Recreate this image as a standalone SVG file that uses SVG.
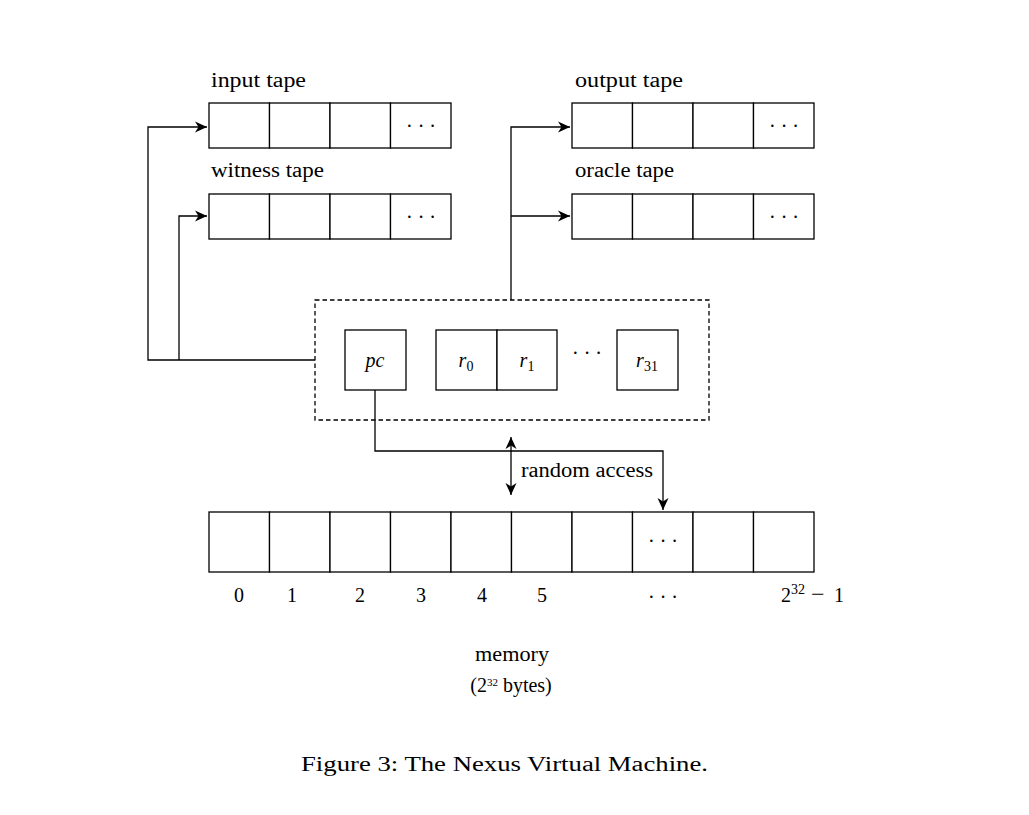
<svg xmlns="http://www.w3.org/2000/svg" width="1029" height="815" viewBox="0 0 1029 815">
<style>
.cell{fill:#fff;stroke:#000;stroke-width:1.3}
.ln{fill:none;stroke:#000;stroke-width:1.3}
.t{font-family:"Liberation Serif","DejaVu Serif",serif;font-size:20px;fill:#000}
.m{font-family:"Liberation Serif","DejaVu Serif",serif;font-size:20px;font-style:italic;fill:#000}
.s{font-size:14px}
</style>
<defs>
<marker id="ah" markerUnits="userSpaceOnUse" markerWidth="16" markerHeight="14" refX="12" refY="7" orient="auto-start-reverse">
<path d="M0,1.5 L12,7 L0,12.5 L3.5,7 Z" fill="#000"/>
</marker>
</defs>
<rect width="1029" height="815" fill="#fff"/>

<g id="input-tape">
<text class="t" x="211" y="87" textLength="95" lengthAdjust="spacingAndGlyphs">input tape</text>
<rect class="cell" x="209" y="103" width="60.5" height="45"/>
<rect class="cell" x="269.5" y="103" width="60.5" height="45"/>
<rect class="cell" x="330" y="103" width="60.5" height="45"/>
<rect class="cell" x="390.5" y="103" width="60.5" height="45"/>
<text class="t" x="421" y="133" text-anchor="middle">· · ·</text>
</g>
<g id="witness-tape">
<text class="t" x="211" y="177" textLength="113" lengthAdjust="spacingAndGlyphs">witness tape</text>
<rect class="cell" x="209" y="194" width="60.5" height="45"/>
<rect class="cell" x="269.5" y="194" width="60.5" height="45"/>
<rect class="cell" x="330" y="194" width="60.5" height="45"/>
<rect class="cell" x="390.5" y="194" width="60.5" height="45"/>
<text class="t" x="421" y="224" text-anchor="middle">· · ·</text>
</g>
<g id="output-tape">
<text class="t" x="575" y="87" textLength="108" lengthAdjust="spacingAndGlyphs">output tape</text>
<rect class="cell" x="572" y="103" width="60.5" height="45"/>
<rect class="cell" x="632.5" y="103" width="60.5" height="45"/>
<rect class="cell" x="693" y="103" width="60.5" height="45"/>
<rect class="cell" x="753.5" y="103" width="60.5" height="45"/>
<text class="t" x="784" y="133" text-anchor="middle">· · ·</text>
</g>
<g id="oracle-tape">
<text class="t" x="575" y="177" textLength="99" lengthAdjust="spacingAndGlyphs">oracle tape</text>
<rect class="cell" x="572" y="194" width="60.5" height="45"/>
<rect class="cell" x="632.5" y="194" width="60.5" height="45"/>
<rect class="cell" x="693" y="194" width="60.5" height="45"/>
<rect class="cell" x="753.5" y="194" width="60.5" height="45"/>
<text class="t" x="784" y="224" text-anchor="middle">· · ·</text>
</g>

<g id="registers">
<rect x="315" y="300" width="394" height="120" fill="none" stroke="#000" stroke-width="1.3" stroke-dasharray="4.5,3"/>
<rect class="cell" x="345" y="330" width="61" height="60"/>
<text class="m" x="375" y="367" text-anchor="middle">pc</text>
<rect class="cell" x="436" y="330" width="61" height="60"/>
<text class="m" x="466" y="367" text-anchor="middle">r<tspan class="s" dy="4" font-style="normal">0</tspan></text>
<rect class="cell" x="497" y="330" width="60" height="60"/>
<text class="m" x="527" y="367" text-anchor="middle">r<tspan class="s" dy="4" font-style="normal">1</tspan></text>
<text class="t" x="587" y="360" text-anchor="middle">· · ·</text>
<rect class="cell" x="617" y="330" width="61" height="60"/>
<text class="m" x="647" y="367" text-anchor="middle">r<tspan class="s" dy="4" font-style="normal">31</tspan></text>
</g>

<g id="memory">
<rect class="cell" x="209" y="512" width="60.5" height="60"/>
<rect class="cell" x="269.5" y="512" width="60.5" height="60"/>
<rect class="cell" x="330" y="512" width="60.5" height="60"/>
<rect class="cell" x="390.5" y="512" width="60.5" height="60"/>
<rect class="cell" x="451" y="512" width="60.5" height="60"/>
<rect class="cell" x="511.5" y="512" width="60.5" height="60"/>
<rect class="cell" x="572" y="512" width="60.5" height="60"/>
<rect class="cell" x="632.5" y="512" width="60.5" height="60"/>
<rect class="cell" x="693" y="512" width="60.5" height="60"/>
<rect class="cell" x="753.5" y="512" width="60.5" height="60"/>
<text class="t" x="663" y="548" text-anchor="middle">· · ·</text>
<text class="t" x="239" y="602" text-anchor="middle">0</text>
<text class="t" x="292" y="602" text-anchor="middle">1</text>
<text class="t" x="360" y="602" text-anchor="middle">2</text>
<text class="t" x="421" y="602" text-anchor="middle">3</text>
<text class="t" x="482" y="602" text-anchor="middle">4</text>
<text class="t" x="542" y="602" text-anchor="middle">5</text>
<text class="t" x="663" y="604" text-anchor="middle">· · ·</text>
<text class="t" x="781" y="602">2<tspan class="s" dy="-8">32</tspan><tspan x="811" dy="8" font-size="24">−</tspan><tspan x="834">1</tspan></text>
<text class="t" x="512" y="661" text-anchor="middle" textLength="74" lengthAdjust="spacingAndGlyphs">memory</text>
<text class="t" x="511" y="692" text-anchor="middle" font-size="15">(2<tspan font-size="11" dy="-6">32</tspan><tspan dy="6"> bytes)</tspan></text>
</g>

<g id="connectors">
<path class="ln" d="M315,360 H148 V127 H207" marker-end="url(#ah)"/>
<path class="ln" d="M179,360 V216 H207" marker-end="url(#ah)"/>
<path class="ln" d="M511,300 V127 H570" marker-end="url(#ah)"/>
<path class="ln" d="M511,216 H570" marker-end="url(#ah)"/>
<path class="ln" d="M375,390 V451 H663 V510" marker-end="url(#ah)"/>
<path class="ln" d="M511,437 V495" marker-start="url(#ah)" marker-end="url(#ah)"/>
<text class="t" x="521" y="477" textLength="132" lengthAdjust="spacingAndGlyphs">random access</text>
</g>

<text class="t" x="301" y="771" font-size="24" textLength="407" lengthAdjust="spacingAndGlyphs">Figure 3: The Nexus Virtual Machine.</text>
</svg>
